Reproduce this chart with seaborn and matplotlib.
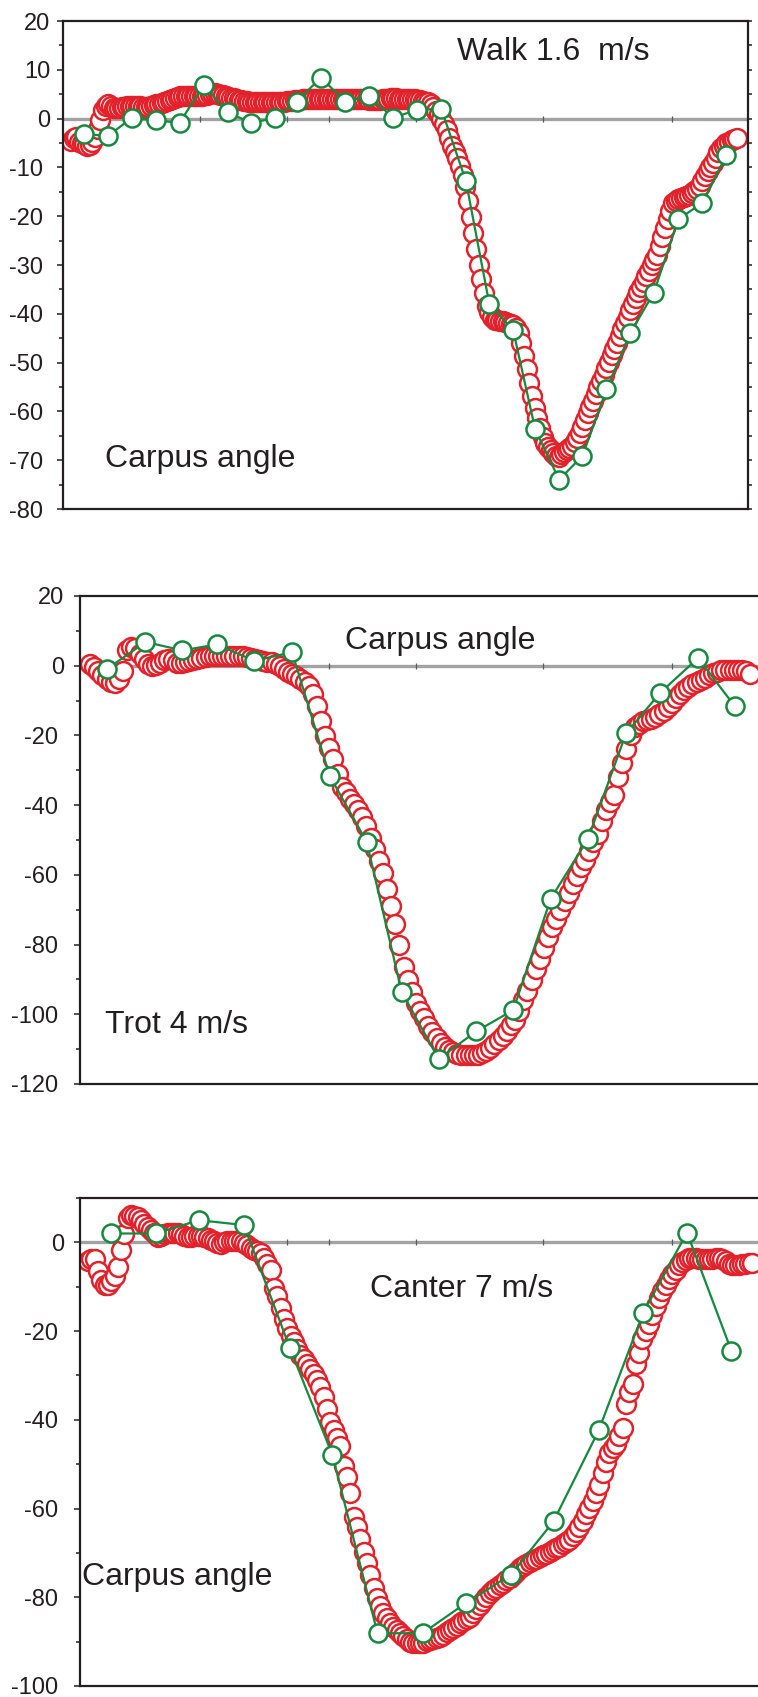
# Carpus angle: red = one source, green = the other, three gaits
import numpy as np
import matplotlib
matplotlib.use('Agg')
import matplotlib.pyplot as plt
import matplotlib.transforms as mtransforms
from matplotlib.ticker import MultipleLocator, FuncFormatter
import seaborn as sns

sns.set_style('ticks')
plt.rcParams['font.family'] = ['Liberation Sans', 'DejaVu Sans']
plt.rcParams['axes.unicode_minus'] = False

# ==================== data ====================
# red series, evenly spaced over 0..100 % of the stride
walk_red = [
    -4.6, -3.9, -3.8, -4.7, -5.1, -5.3, -5.6, -5.5, -4.8, -3.7, -2.2, -0.2, 1.7, 2.6, 2.9, 2.6, 2.2, 2.2, 2.2, 2.3, 2.4, 2.5, 2.5, 2.5, 2.5,
    2.5, 2.5, 2.4, 2.4, 2.4, 2.5, 2.7, 2.9, 3.0, 3.2, 3.4, 3.6, 3.8, 4.1, 4.3, 4.5, 4.6, 4.6, 4.6, 4.6, 4.6, 4.6, 4.6, 4.6, 4.7,
    4.8, 4.9, 5.1, 5.2, 5.3, 5.1, 4.9, 4.8, 4.7, 4.5, 4.3, 4.2, 4.1, 3.9, 3.8, 3.7, 3.6, 3.5, 3.4, 3.4, 3.3, 3.3, 3.3, 3.3, 3.3,
    3.3, 3.3, 3.3, 3.4, 3.5, 3.5, 3.6, 3.7, 3.7, 3.8, 3.9, 3.9, 4.0, 4.0, 4.0, 4.0, 4.0, 4.0, 4.0, 4.0, 4.0, 4.0, 4.0, 4.0, 4.0,
    4.0, 4.0, 4.0, 4.0, 4.0, 4.0, 4.0, 4.0, 4.0, 4.0, 4.0, 4.0, 3.9, 3.9, 3.9, 3.9, 3.9, 4.0, 4.1, 4.1, 4.2, 4.2, 4.2, 4.1, 4.1,
    4.0, 4.0, 4.0, 4.0, 4.0, 3.9, 3.9, 3.7, 3.5, 3.3, 3.0, 2.3, 1.6, 0.9, 0.0, -1.1, -2.4, -4.0, -5.7, -6.9, -8.1, -9.8, -11.5, -14.0, -16.8,
    -20.1, -23.4, -26.7, -30.0, -32.9, -35.7, -38.5, -39.6, -40.7, -41.2, -41.3, -41.4, -41.5, -41.6, -41.8, -42.0, -42.2, -43.0, -44.0, -45.9, -48.7, -51.4, -54.2, -56.9, -59.3,
    -61.4, -63.4, -65.3, -66.4, -67.3, -67.9, -68.5, -69.1, -69.3, -68.8, -68.4, -68.0, -67.6, -67.1, -66.3, -65.4, -64.4, -63.1, -61.8, -60.4, -59.1, -57.8, -56.5, -55.1, -53.8,
    -52.5, -51.2, -49.8, -48.5, -47.2, -45.9, -44.5, -43.2, -41.9, -40.6, -39.2, -38.0, -36.7, -35.5, -34.5, -33.4, -32.3, -31.2, -30.1, -29.0, -27.9, -26.2, -24.3, -22.4, -20.6,
    -18.9, -17.3, -16.8, -16.4, -16.2, -16.0, -15.8, -15.6, -15.3, -14.9, -14.4, -13.9, -12.8, -11.7, -10.7, -9.9, -9.1, -8.0, -6.9, -6.1, -5.6, -5.0, -4.7, -4.4, -4.2,
    -4.0,
]
trot_red = [
    0.4, -0.5, -1.6, -2.8, -3.8, -4.6, -5.0, -3.9, -1.5, 4.4, 5.3, 5.0, 3.4, 1.8, 0.6, -0.1,
    0.3, 0.9, 1.5, 1.8, 1.5, 0.9, 0.9, 1.0, 1.4, 1.6, 1.9, 2.2, 2.5, 2.8, 2.9, 2.9,
    2.9, 2.9, 2.9, 2.9, 2.8, 2.7, 2.5, 2.1, 1.8, 1.6, 1.4, 1.2, 1.0, 0.6, 0.0, -0.9,
    -1.8, -2.4, -3.0, -3.7, -4.6, -5.9, -8.2, -11.5, -15.9, -20.2, -23.5, -26.9, -31.1, -34.8, -36.3, -38.1,
    -39.7, -41.3, -43.3, -46.0, -49.4, -52.6, -56.0, -59.5, -64.0, -69.0, -74.0, -80.0, -86.5, -90.2, -93.5, -96.7,
    -99.0, -101.2, -103.3, -105.1, -106.7, -108.2, -109.5, -110.3, -110.9, -111.4, -111.6, -111.8, -111.8, -111.8, -111.6, -111.1,
    -110.5, -109.6, -108.5, -107.4, -106.1, -104.9, -103.2, -101.6, -99.0, -96.0, -93.2, -90.2, -87.1, -84.1, -81.0, -77.8,
    -75.0, -72.6, -70.1, -67.6, -65.2, -62.7, -60.2, -57.8, -55.7, -53.2, -50.7, -48.2, -44.6, -41.4, -39.0, -37.0,
    -32.0, -28.0, -23.8, -19.8, -17.6, -16.8, -16.0, -15.6, -15.2, -14.7, -13.8, -12.9, -11.8, -10.6, -9.3, -8.1,
    -6.9, -6.0, -5.2, -4.6, -4.0, -3.4, -2.8, -2.1, -1.7, -1.3, -1.1, -1.1, -1.1, -1.1, -1.1, -1.4,
    -2.5,
]
canter_red = [
    -4.2, -3.8, -3.8, -6.5, -8.4, -9.7, -9.6, -8.7, -7.5, -5.6, -1.8, 1.8, 5.4, 6.1, 6.0, 5.8, 5.0, 4.1, 3.4, 2.7,
    2.0, 1.2, 1.5, 1.9, 2.1, 2.2, 2.2, 2.1, 1.8, 1.4, 1.1, 1.3, 1.4, 1.4, 1.4, 1.2, 1.0, 0.6, 0.2, -0.2,
    -0.4, 0.0, 0.3, 0.3, 0.3, 0.3, 0.2, -0.2, -0.6, -1.2, -1.7, -2.0, -2.5, -3.6, -4.8, -6.2, -10.3, -12.1, -14.7, -17.2,
    -19.3, -21.1, -22.4, -24.0, -25.5, -26.4, -27.4, -28.6, -29.7, -31.1, -32.5, -34.8, -37.5, -40.4, -42.2, -44.1, -46.0, -50.5, -52.9, -56.4,
    -61.8, -64.2, -66.9, -69.9, -72.3, -74.9, -78.0, -80.1, -82.0, -83.6, -84.7, -85.7, -86.6, -87.4, -88.1, -88.8, -89.4, -90.0, -90.2, -90.3,
    -90.4, -90.2, -89.9, -89.6, -89.4, -89.1, -88.9, -88.4, -87.9, -87.4, -86.9, -86.4, -85.9, -85.4, -84.9, -84.4, -83.5, -82.6, -81.7, -80.8,
    -80.0, -79.1, -78.3, -77.8, -77.3, -76.8, -76.2, -75.6, -74.9, -74.2, -73.5, -73.0, -72.6, -72.1, -71.7, -71.3, -70.9, -70.5, -70.2, -69.8,
    -69.4, -69.0, -68.6, -68.1, -67.6, -67.1, -66.2, -65.2, -64.2, -62.8, -61.3, -59.8, -58.3, -56.5, -54.6, -52.1, -49.6, -47.4, -46.3, -45.4,
    -43.7, -41.8, -36.5, -33.7, -32.0, -27.4, -25.0, -21.8, -20.0, -18.5, -16.3, -14.4, -12.6, -10.9, -9.5, -8.2, -7.2, -6.2, -5.2, -4.5,
    -4.0, -3.6, -3.5, -3.6, -3.7, -3.8, -3.8, -3.8, -3.7, -3.6, -3.5, -3.8, -4.3, -4.8, -5.0, -5.0, -5.0, -4.9, -4.8, -4.7,
    -4.6,
]

# green series
walk_gx = [1.9, 5.5, 9.1, 12.7, 16.3, 19.9, 23.5, 27.1, 30.7, 33.9, 37.5, 41.2, 44.7, 48.4,
           52.0, 55.6, 59.3, 62.8, 66.4, 69.7, 73.3, 76.8, 80.4, 84.0, 87.5, 91.2, 94.8, 98.4]
walk_gy = [-3.1, -3.6, 0.1, -0.3, -0.9, 6.9, 1.3, -0.9, 0.2, 3.5, 8.4, 3.5, 4.6, 0.2,
           1.8, 2.0, -12.8, -37.9, -43.4, -63.7, -74.0, -69.1, -55.5, -43.9, -35.7, -20.6, -17.3, -7.5]
trot_gx = [2.6, 8.4, 14.0, 19.2, 24.9, 30.6, 36.3, 41.9, 47.2, 52.8, 58.5, 64.1, 69.8, 75.4,
           81.2, 86.4, 92.1, 97.7]
trot_gy = [-0.9, 6.8, 4.4, 6.1, 1.4, 3.9, -31.6, -50.5, -93.5, -112.8, -104.9, -98.8, -66.8, -49.8,
           -19.4, -7.7, 2.2, -11.7]
canter_gx = [3.5, 10.2, 16.7, 23.5, 30.4, 36.8, 43.6, 50.4, 56.9, 63.7, 70.1, 76.9, 83.6, 90.2, 96.9]
canter_gy = [2.0, 2.0, 5.0, 3.9, -23.8, -47.9, -88.1, -88.1, -81.3, -74.9, -62.9, -42.4, -15.9, 2.2, -24.5]

# ==================== style ====================
W, H = 758, 1697
RED = '#e2212b'
GREEN = '#158a3e'
DARK = '#231f20'
ZERO_GRAY = '#a2a2a2'
# little marks along the zero line (figure pixels)
zero_tick_px = [160, 200, 287, 329, 416, 543, 672]

fig = plt.figure(figsize=(W / 100, H / 100), dpi=100)
fig.patch.set_facecolor('white')

# negative labels sit a little further left in the original
ylab_fmt = FuncFormatter(lambda v, pos: f'{v:.0f} ' if v < 0 else f'{v:.0f}')


def draw_panel(box, xlim, ylim, major, minor, red_y, gx, gy, label_pad):
    left, top, right, bottom = box
    ax = fig.add_axes([left / W, 1 - bottom / H, (right - left) / W, (bottom - top) / H])

    ax.axhline(0, color=ZERO_GRAY, lw=2.4, zorder=1)
    trans = mtransforms.blended_transform_factory(fig.transFigure, ax.transData)
    ax.plot(np.array(zero_tick_px) / W, np.zeros(len(zero_tick_px)), ls='', marker='|',
            ms=4, mew=0.9, color='#5a5a5a', transform=trans, zorder=1.5)

    red_x = np.linspace(0, 100, len(red_y))
    sns.scatterplot(x=red_x, y=red_y, ax=ax, s=185, color='white', edgecolor=RED,
                    linewidth=1.8, zorder=2, legend=False)
    sns.lineplot(x=gx, y=gy, ax=ax, color=GREEN, lw=1.6, marker='o', markersize=13,
                 markerfacecolor='white', markeredgecolor=GREEN, markeredgewidth=1.8,
                 sort=False, estimator=None, zorder=3)

    ax.set_xlim(*xlim)
    ax.set_ylim(*ylim)
    ax.set_xticks([])
    ax.set_yticks(np.arange(ylim[0], ylim[1] + 1, major))
    ax.yaxis.set_major_formatter(ylab_fmt)
    ax.yaxis.set_minor_locator(MultipleLocator(minor))
    ax.tick_params(axis='y', which='major', length=4.3, width=1.1, direction='out',
                   labelsize=17, pad=label_pad, colors=DARK)
    ax.tick_params(axis='y', which='minor', length=2.8, width=1.1, direction='out', colors=DARK)
    ax.set_xlabel('')
    ax.set_ylabel('')
    for sp in ax.spines.values():
        sp.set_linewidth(1.6)
        sp.set_color(DARK)
    return ax


def put_text(x_px, y_px, s):
    fig.text(x_px / W, 1 - y_px / H, s, fontsize=23, color=DARK, ha='left', va='baseline')


# Walk
ax1 = draw_panel((63, 21, 748, 509), (-1.2, 101.65), (-80, 20), 10, 5,
                 walk_red, walk_gx, walk_gy, 5)
ax1r = ax1.twinx()
ax1r.set_ylim(-80, 20)
ax1r.set_yticks(np.arange(-80, 21, 5))
ax1r.tick_params(axis='y', length=2.8, width=1.1, direction='out', labelright=False, colors=DARK)
for sp in ax1r.spines.values():
    sp.set_visible(False)
put_text(457, 60, 'Walk 1.6  m/s')
put_text(105, 467, 'Carpus angle')

# Trot
draw_panel((80, 596, 770, 1084), (-1.52, 103.0), (-120, 20), 20, 10,
           trot_red, trot_gx, trot_gy, 7)
put_text(345, 649, 'Carpus angle')
put_text(105, 1033, 'Trot 4 m/s')

# Canter
draw_panel((80, 1198, 770, 1686), (-1.2, 102.7), (-100, 10), 20, 10,
           canter_red, canter_gx, canter_gy, 7)
put_text(370, 1297, 'Canter 7 m/s')
put_text(82, 1585, 'Carpus angle')

plt.savefig('out.png', dpi=100)
